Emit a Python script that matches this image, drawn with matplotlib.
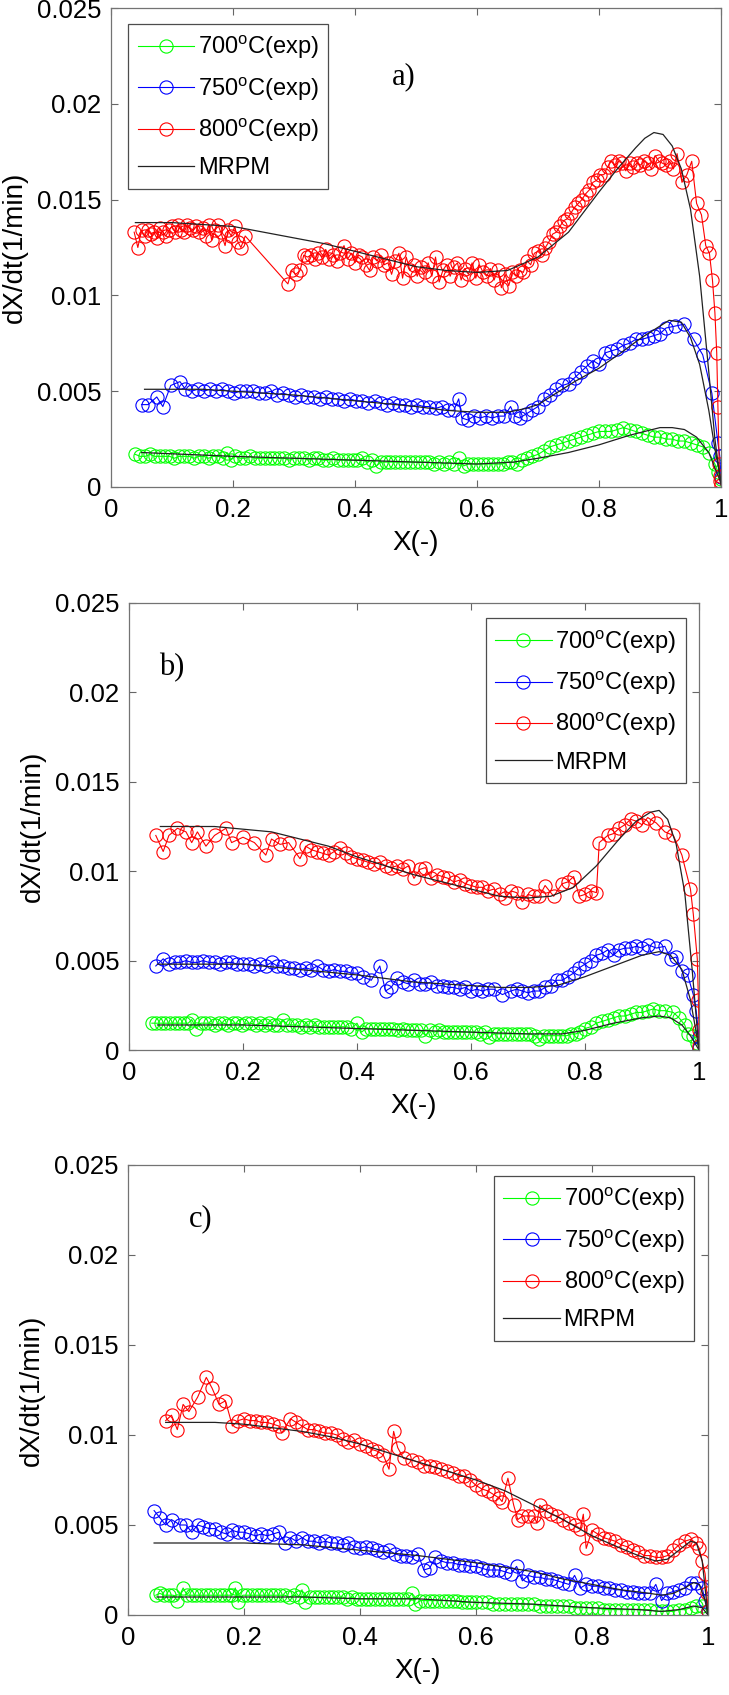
import matplotlib
matplotlib.use("Agg")
import matplotlib.pyplot as plt

# ---------------- Panel a) ----------------
a_red_x = [0.038,0.044,0.050,0.055,0.060,0.065,0.070,0.075,0.080,0.085,0.090,0.095,0.100,0.105,0.110,0.115,0.120,0.125,0.130,0.135,
           0.140,0.145,0.150,0.155,0.160,0.165,0.170,0.175,0.180,0.187,0.192,0.197,0.203,0.208,0.213,0.220,0.290,0.296,0.303,0.310,
           0.316,0.322,0.328,0.334,0.340,0.346,0.352,0.358,0.364,0.370,0.376,0.382,0.388,0.394,0.400,0.406,0.412,0.418,0.424,0.430,
           0.436,0.442,0.448,0.454,0.460,0.466,0.472,0.478,0.484,0.490,0.496,0.502,0.508,0.514,0.520,0.526,0.532,0.538,0.544,0.550,
           0.556,0.562,0.568,0.574,0.580,0.586,0.592,0.598,0.604,0.610,0.616,0.622,0.628,0.634,0.640,0.646,0.652,0.658,0.664,0.670,
           0.676,0.682,0.688,0.694,0.700,0.706,0.712,0.718,0.724,0.730,0.736,0.742,0.748,0.754,0.760,0.766,0.772,0.778,0.784,0.790,
           0.796,0.802,0.808,0.814,0.820,0.826,0.832,0.838,0.844,0.850,0.856,0.862,0.868,0.874,0.880,0.886,0.892,0.898,0.904,0.910,
           0.916,0.922,0.928,0.936,0.944,0.952,0.960,0.968,0.975,0.981,0.986,0.990,0.993,0.995,0.997,0.998,0.999,1.000]
a_red_y = [0.0133,0.0125,0.0134,0.0131,0.0134,0.0132,0.0133,0.0130,0.0135,0.0133,0.0131,0.0134,0.0136,0.0133,0.0137,0.0134,0.0133,0.0137,0.0135,0.0134,
           0.0136,0.0133,0.0135,0.0131,0.0137,0.0129,0.0134,0.0137,0.0133,0.0126,0.0134,0.0131,0.0136,0.0128,0.0125,0.0131,0.0106,0.0113,0.0111,0.0113,
           0.0121,0.0120,0.0121,0.0119,0.0122,0.0120,0.0124,0.0119,0.0121,0.0118,0.0122,0.0126,0.0119,0.0122,0.0117,0.0121,0.0120,0.0116,0.0113,0.0120,
           0.0118,0.0121,0.0116,0.0117,0.0111,0.0118,0.0122,0.0109,0.0120,0.0113,0.0116,0.0110,0.0115,0.0112,0.0117,0.0110,0.0120,0.0107,0.0113,0.0116,
           0.0110,0.0115,0.0117,0.0108,0.0114,0.0111,0.0117,0.0109,0.0116,0.0112,0.0110,0.0114,0.0108,0.0113,0.0104,0.0111,0.0105,0.0112,0.0110,0.0113,
           0.0112,0.0118,0.0116,0.0122,0.0123,0.0121,0.0125,0.0128,0.0132,0.0133,0.0136,0.0139,0.0140,0.0143,0.0146,0.0148,0.0150,0.0153,0.0155,0.0159,
           0.0160,0.0163,0.0163,0.0167,0.0170,0.0168,0.0170,0.0169,0.0165,0.0169,0.0167,0.0169,0.0168,0.0170,0.0169,0.0166,0.0173,0.0170,0.0169,0.0168,
           0.0170,0.0166,0.0174,0.0159,0.0163,0.0170,0.0148,0.0142,0.0126,0.0122,0.0108,0.0091,0.0070,0.0042,0.0012,0.0006,0.0003,0.0001]
a_red_mx = [0.04,0.10,0.20,0.25,0.30,0.35,0.40,0.45,0.50,0.55,0.60,0.65,0.70,0.75,0.80,0.83,0.86,0.875,0.89,0.905,0.92,0.935,0.95,0.965,0.98,0.99,1.00]
a_red_my = [0.0138,0.0138,0.0136,0.0133,0.0130,0.0127,0.0123,0.0119,0.0115,0.0113,0.0112,0.0113,0.0120,0.0133,0.0154,0.0166,0.0177,0.0182,0.0185,0.0184,0.0178,0.0166,0.0145,0.0110,0.0060,0.0025,0.0001]

a_blue_x = [0.050,0.061,0.075,0.085,0.098,0.113,0.122,0.132,0.142,0.152,0.162,0.172,0.182,0.192,0.202,0.212,0.222,0.232,0.242,0.252,
            0.262,0.272,0.282,0.292,0.302,0.312,0.322,0.332,0.342,0.352,0.362,0.372,0.382,0.392,0.402,0.412,0.422,0.432,0.442,0.452,
            0.462,0.472,0.482,0.492,0.502,0.512,0.522,0.532,0.542,0.552,0.562,0.570,0.575,0.585,0.595,0.605,0.615,0.625,0.635,0.645,
            0.655,0.662,0.670,0.680,0.690,0.700,0.710,0.720,0.730,0.740,0.750,0.760,0.770,0.780,0.790,0.800,0.810,0.820,0.830,0.840,
            0.850,0.860,0.870,0.880,0.890,0.900,0.910,0.925,0.940,0.955,0.970,0.985,0.995,0.998,1.000]
a_blue_y = [0.0043,0.0043,0.0047,0.0042,0.0053,0.0055,0.0051,0.0050,0.0051,0.0050,0.0051,0.0050,0.0051,0.0050,0.0049,0.0050,0.0050,0.0050,0.0049,0.0049,
            0.0050,0.0048,0.0049,0.0048,0.0047,0.0048,0.0047,0.0047,0.0046,0.0047,0.0046,0.0046,0.0045,0.0046,0.0045,0.0045,0.0044,0.0045,0.0044,0.0043,
            0.0044,0.0043,0.0043,0.0042,0.0043,0.0042,0.0042,0.0041,0.0042,0.0040,0.0040,0.0046,0.0036,0.0035,0.0037,0.0036,0.0037,0.0036,0.0037,0.0037,
            0.0042,0.0037,0.0036,0.0038,0.0040,0.0042,0.0046,0.0048,0.0051,0.0053,0.0054,0.0057,0.0060,0.0063,0.0066,0.0064,0.0070,0.0071,0.0072,0.0074,
            0.0075,0.0077,0.0077,0.0078,0.0079,0.0080,0.0083,0.0084,0.0085,0.0077,0.0069,0.0049,0.0023,0.0016,0.0005]
a_blue_mx = [0.055,0.15,0.20,0.30,0.40,0.50,0.55,0.60,0.65,0.68,0.70,0.73,0.76,0.80,0.84,0.87,0.90,0.915,0.935,0.95,0.965,0.98,0.99,1.00]
a_blue_my = [0.0051,0.0051,0.0050,0.0048,0.0045,0.0042,0.0040,0.0039,0.0039,0.0041,0.0043,0.0049,0.0055,0.0062,0.0071,0.0078,0.0084,0.0087,0.0086,0.0078,0.0064,0.0040,0.0020,0.0003]

a_green_x = [0.040,0.048,0.056,0.064,0.072,0.080,0.088,0.096,0.104,0.112,0.120,0.128,0.136,0.144,0.152,0.160,0.168,0.176,0.184,0.190,
             0.196,0.204,0.212,0.220,0.228,0.236,0.244,0.252,0.260,0.268,0.276,0.284,0.292,0.300,0.308,0.316,0.324,0.332,0.340,0.348,
             0.356,0.364,0.372,0.380,0.388,0.396,0.404,0.412,0.420,0.428,0.435,0.442,0.450,0.458,0.466,0.474,0.482,0.490,0.498,0.506,
             0.514,0.522,0.530,0.538,0.546,0.554,0.562,0.570,0.578,0.586,0.594,0.602,0.610,0.618,0.626,0.634,0.642,0.650,0.658,0.666,
             0.674,0.682,0.690,0.700,0.710,0.720,0.730,0.740,0.750,0.760,0.770,0.780,0.790,0.800,0.810,0.820,0.830,0.840,0.850,0.860,
             0.870,0.880,0.890,0.900,0.910,0.920,0.930,0.940,0.950,0.960,0.970,0.980,0.990,0.995,1.000]
a_green_y = [0.0017,0.0016,0.0016,0.0017,0.0016,0.0016,0.0016,0.0016,0.0015,0.0016,0.0016,0.0016,0.0015,0.0016,0.0016,0.0015,0.0016,0.0016,0.0015,0.0018,
             0.0014,0.0016,0.0015,0.0015,0.0016,0.0015,0.0015,0.0015,0.0015,0.0015,0.0015,0.0015,0.0014,0.0015,0.0015,0.0015,0.0014,0.0015,0.0015,0.0014,
             0.0014,0.0015,0.0014,0.0014,0.0014,0.0014,0.0014,0.0015,0.0013,0.0014,0.0011,0.0013,0.0013,0.0013,0.0013,0.0013,0.0013,0.0013,0.0013,0.0013,
             0.0013,0.0013,0.0012,0.0013,0.0012,0.0013,0.0012,0.0015,0.0011,0.0012,0.0012,0.0012,0.0012,0.0012,0.0012,0.0012,0.0012,0.0013,0.0013,0.0012,
             0.0014,0.0015,0.0016,0.0017,0.0019,0.0021,0.0022,0.0023,0.0024,0.0025,0.0026,0.0027,0.0028,0.0029,0.0029,0.0029,0.0030,0.0031,0.0030,0.0029,
             0.0028,0.0027,0.0026,0.0026,0.0025,0.0025,0.0024,0.0024,0.0023,0.0022,0.0021,0.0018,0.0012,0.0008,0.0004]
a_green_mx = [0.05,0.20,0.30,0.40,0.50,0.60,0.66,0.70,0.75,0.80,0.85,0.90,0.92,0.94,0.96,0.98,0.99,1.00]
a_green_my = [0.0018,0.0016,0.0015,0.0014,0.0013,0.0012,0.0013,0.0015,0.0018,0.0022,0.0027,0.0031,0.0031,0.0030,0.0026,0.0018,0.0010,0.0002]

# ---------------- Panel b) ----------------
b_red_x = [0.047,0.060,0.070,0.085,0.100,0.110,0.120,0.135,0.150,0.170,0.180,0.200,0.220,0.240,0.250,0.265,0.280,0.300,0.310,0.320,
           0.330,0.340,0.350,0.360,0.370,0.380,0.390,0.400,0.410,0.420,0.430,0.440,0.450,0.460,0.470,0.480,0.490,0.500,0.510,0.520,
           0.530,0.540,0.550,0.560,0.570,0.580,0.590,0.600,0.610,0.620,0.630,0.640,0.650,0.660,0.670,0.680,0.690,0.700,0.710,0.720,
           0.730,0.745,0.760,0.770,0.780,0.790,0.800,0.810,0.820,0.825,0.840,0.850,0.860,0.870,0.880,0.890,0.900,0.910,0.925,0.940,
           0.955,0.970,0.985,0.990,0.997,0.999,1.000,1.000]
b_red_y = [0.0120,0.0111,0.0120,0.0124,0.0122,0.0116,0.0122,0.0114,0.0120,0.0124,0.0116,0.0119,0.0116,0.0109,0.0118,0.0115,0.0116,0.0107,0.0114,0.0112,
           0.0111,0.0110,0.0109,0.0111,0.0113,0.0110,0.0108,0.0107,0.0106,0.0105,0.0104,0.0105,0.0103,0.0102,0.0103,0.0101,0.0103,0.0096,0.0101,0.0102,
           0.0096,0.0098,0.0097,0.0096,0.0094,0.0095,0.0093,0.0092,0.0091,0.0091,0.0089,0.0090,0.0087,0.0085,0.0089,0.0088,0.0083,0.0087,0.0086,0.0086,
           0.0092,0.0086,0.0093,0.0094,0.0097,0.0086,0.0087,0.0089,0.0088,0.0116,0.0120,0.0121,0.0124,0.0126,0.0129,0.0128,0.0126,0.0130,0.0127,0.0122,
           0.0120,0.0109,0.0090,0.0076,0.0051,0.0028,0.0011,0.0002]
b_red_mx = [0.055,0.15,0.25,0.30,0.35,0.40,0.45,0.50,0.55,0.60,0.65,0.70,0.74,0.78,0.82,0.86,0.89,0.915,0.93,0.945,0.96,0.975,0.988,1.00]
b_red_my = [0.0125,0.0125,0.0122,0.0118,0.0114,0.0108,0.0103,0.0098,0.0094,0.0090,0.0086,0.0085,0.0086,0.0091,0.0103,0.0118,0.0128,0.0133,0.0134,0.0129,0.0115,0.0088,0.0045,0.0000]

b_blue_x = [0.047,0.060,0.070,0.080,0.090,0.100,0.110,0.120,0.130,0.140,0.150,0.160,0.170,0.180,0.190,0.200,0.210,0.220,0.230,0.240,
            0.250,0.260,0.270,0.280,0.290,0.300,0.310,0.320,0.330,0.340,0.350,0.360,0.370,0.380,0.390,0.400,0.410,0.425,0.440,0.450,
            0.460,0.470,0.480,0.490,0.500,0.510,0.520,0.530,0.540,0.550,0.560,0.570,0.580,0.590,0.600,0.610,0.620,0.630,0.640,0.655,
            0.670,0.680,0.690,0.700,0.710,0.720,0.730,0.740,0.750,0.760,0.770,0.780,0.790,0.800,0.810,0.820,0.830,0.840,0.850,0.860,
            0.870,0.880,0.890,0.900,0.910,0.925,0.940,0.950,0.960,0.970,0.980,0.990,0.995,1.000,1.000]
b_blue_y = [0.0047,0.0051,0.0048,0.0049,0.0049,0.0050,0.0049,0.0049,0.0050,0.0049,0.0049,0.0048,0.0049,0.0049,0.0048,0.0048,0.0048,0.0047,0.0048,0.0047,
            0.0049,0.0047,0.0047,0.0046,0.0046,0.0045,0.0046,0.0045,0.0047,0.0045,0.0044,0.0045,0.0044,0.0044,0.0043,0.0043,0.0041,0.0039,0.0047,0.0033,
            0.0035,0.0040,0.0038,0.0037,0.0039,0.0037,0.0037,0.0038,0.0036,0.0036,0.0035,0.0035,0.0034,0.0035,0.0033,0.0034,0.0033,0.0034,0.0034,0.0031,
            0.0033,0.0034,0.0033,0.0032,0.0033,0.0033,0.0035,0.0036,0.0039,0.0039,0.0041,0.0043,0.0046,0.0048,0.0050,0.0053,0.0054,0.0056,0.0053,0.0056,
            0.0057,0.0057,0.0058,0.0057,0.0059,0.0057,0.0058,0.0051,0.0052,0.0044,0.0042,0.0031,0.0022,0.0007,0.0001]
b_blue_mx = [0.05,0.20,0.30,0.40,0.50,0.60,0.65,0.70,0.75,0.80,0.85,0.90,0.93,0.95,0.97,0.985,0.995,1.00]
b_blue_my = [0.0048,0.0048,0.0045,0.0042,0.0038,0.0036,0.0035,0.0035,0.0036,0.0041,0.0047,0.0053,0.0055,0.0053,0.0045,0.0028,0.0010,0.0000]

b_green_x = [0.040,0.048,0.056,0.064,0.072,0.080,0.088,0.096,0.104,0.110,0.118,0.126,0.134,0.142,0.150,0.158,0.166,0.174,0.182,0.190,
             0.198,0.206,0.214,0.222,0.230,0.238,0.246,0.254,0.262,0.270,0.278,0.286,0.294,0.302,0.310,0.318,0.326,0.334,0.342,0.350,
             0.358,0.366,0.374,0.382,0.390,0.400,0.408,0.416,0.424,0.432,0.440,0.448,0.456,0.464,0.472,0.480,0.488,0.496,0.504,0.512,
             0.520,0.528,0.536,0.544,0.552,0.560,0.568,0.576,0.584,0.592,0.600,0.608,0.616,0.624,0.632,0.640,0.648,0.656,0.664,0.672,
             0.680,0.688,0.696,0.704,0.712,0.720,0.728,0.736,0.744,0.752,0.760,0.768,0.776,0.784,0.792,0.800,0.810,0.820,0.830,0.840,
             0.850,0.860,0.870,0.880,0.890,0.900,0.910,0.920,0.930,0.940,0.955,0.965,0.975,0.980,0.990,0.997,1.000]
b_green_y = [0.0015,0.0015,0.0015,0.0015,0.0015,0.0015,0.0015,0.0015,0.0015,0.0017,0.0012,0.0015,0.0015,0.0015,0.0014,0.0015,0.0015,0.0014,0.0015,0.0015,
             0.0014,0.0015,0.0015,0.0014,0.0015,0.0014,0.0015,0.0014,0.0014,0.0017,0.0014,0.0014,0.0014,0.0013,0.0014,0.0013,0.0014,0.0013,0.0013,0.0013,
             0.0013,0.0013,0.0013,0.0013,0.0012,0.0015,0.0010,0.0012,0.0012,0.0012,0.0012,0.0012,0.0012,0.0012,0.0011,0.0012,0.0011,0.0011,0.0011,0.0011,
             0.0008,0.0011,0.0010,0.0011,0.0010,0.0010,0.0010,0.0010,0.0010,0.0010,0.0010,0.0010,0.0009,0.0010,0.0007,0.0009,0.0009,0.0009,0.0009,0.0009,
             0.0009,0.0009,0.0009,0.0009,0.0008,0.0006,0.0008,0.0008,0.0008,0.0008,0.0008,0.0008,0.0009,0.0009,0.0010,0.0012,0.0013,0.0015,0.0016,0.0017,
             0.0018,0.0019,0.0019,0.0020,0.0021,0.0021,0.0022,0.0023,0.0022,0.0022,0.0021,0.0018,0.0014,0.0009,0.0008,0.0004,0.0001]
b_green_mx = [0.05,0.20,0.30,0.40,0.50,0.60,0.70,0.76,0.80,0.85,0.90,0.93,0.95,0.97,0.985,1.00]
b_green_my = [0.0014,0.0014,0.0013,0.0012,0.0011,0.0010,0.0009,0.0009,0.0011,0.0015,0.0018,0.0019,0.0018,0.0014,0.0008,0.0000]

# ---------------- Panel c) ----------------
c_red_x = [0.065,0.075,0.085,0.095,0.105,0.120,0.135,0.145,0.157,0.168,0.180,0.190,0.200,0.210,0.220,0.230,0.240,0.250,0.260,0.265,
           0.280,0.290,0.300,0.310,0.320,0.330,0.340,0.350,0.360,0.370,0.380,0.390,0.400,0.410,0.420,0.430,0.440,0.450,0.458,0.465,
           0.475,0.490,0.500,0.510,0.520,0.530,0.540,0.550,0.560,0.570,0.580,0.590,0.600,0.610,0.620,0.630,0.640,0.645,0.655,0.665,
           0.672,0.680,0.690,0.700,0.705,0.710,0.720,0.730,0.740,0.750,0.760,0.770,0.780,0.785,0.790,0.800,0.810,0.820,0.830,0.840,
           0.850,0.860,0.870,0.880,0.890,0.900,0.910,0.920,0.930,0.940,0.950,0.960,0.970,0.980,0.985,0.990,0.995,0.998,1.000]
c_red_y = [0.0108,0.0111,0.0103,0.0117,0.0113,0.0121,0.0132,0.0126,0.0117,0.0119,0.0105,0.0108,0.0109,0.0108,0.0108,0.0107,0.0107,0.0106,0.0105,0.0101,
           0.0109,0.0107,0.0105,0.0103,0.0103,0.0102,0.0101,0.0101,0.0100,0.0098,0.0096,0.0097,0.0095,0.0094,0.0092,0.0091,0.0089,0.0081,0.0102,0.0093,
           0.0087,0.0086,0.0085,0.0083,0.0083,0.0082,0.0081,0.0080,0.0079,0.0077,0.0077,0.0075,0.0072,0.0070,0.0069,0.0067,0.0065,0.0063,0.0076,0.0061,
           0.0053,0.0055,0.0055,0.0055,0.0051,0.0061,0.0058,0.0056,0.0055,0.0053,0.0051,0.0050,0.0048,0.0056,0.0037,0.0047,0.0045,0.0043,0.0042,0.0041,
           0.0039,0.0038,0.0036,0.0035,0.0033,0.0033,0.0032,0.0032,0.0033,0.0036,0.0039,0.0041,0.0042,0.0040,0.0037,0.0030,0.0023,0.0012,0.0002]
c_red_mx = [0.065,0.15,0.20,0.30,0.35,0.40,0.45,0.50,0.55,0.60,0.65,0.70,0.75,0.80,0.85,0.88,0.91,0.93,0.95,0.97,0.98,0.99,0.995,1.00]
c_red_my = [0.0107,0.0107,0.0106,0.0102,0.0099,0.0095,0.0090,0.0085,0.0080,0.0075,0.0069,0.0061,0.0053,0.0044,0.0037,0.0033,0.0030,0.0031,0.0036,0.0041,0.0040,0.0030,0.0015,0.0000]

c_blue_x = [0.045,0.055,0.065,0.075,0.090,0.100,0.110,0.120,0.130,0.140,0.150,0.160,0.170,0.180,0.190,0.200,0.210,0.220,0.230,0.240,
            0.250,0.260,0.270,0.280,0.290,0.300,0.310,0.320,0.330,0.340,0.350,0.360,0.370,0.380,0.390,0.400,0.410,0.420,0.430,0.440,
            0.450,0.460,0.470,0.480,0.490,0.500,0.510,0.520,0.530,0.540,0.550,0.560,0.570,0.580,0.590,0.600,0.610,0.620,0.630,0.640,
            0.650,0.660,0.670,0.680,0.690,0.700,0.710,0.720,0.730,0.740,0.750,0.760,0.770,0.780,0.790,0.800,0.810,0.820,0.830,0.840,
            0.850,0.860,0.870,0.880,0.890,0.900,0.910,0.920,0.930,0.940,0.950,0.960,0.970,0.980,0.990,0.995,1.000]
c_blue_y = [0.0058,0.0054,0.0050,0.0053,0.0050,0.0050,0.0046,0.0050,0.0049,0.0048,0.0048,0.0046,0.0045,0.0047,0.0046,0.0046,0.0045,0.0044,0.0045,0.0044,
            0.0045,0.0046,0.0040,0.0043,0.0041,0.0043,0.0041,0.0041,0.0040,0.0041,0.0040,0.0040,0.0039,0.0040,0.0038,0.0037,0.0038,0.0037,0.0036,0.0035,
            0.0036,0.0034,0.0033,0.0033,0.0032,0.0034,0.0025,0.0026,0.0032,0.0030,0.0029,0.0029,0.0028,0.0028,0.0027,0.0027,0.0026,0.0025,0.0025,0.0025,
            0.0024,0.0023,0.0027,0.0019,0.0022,0.0021,0.0021,0.0020,0.0020,0.0019,0.0018,0.0017,0.0022,0.0015,0.0017,0.0016,0.0016,0.0015,0.0015,0.0014,
            0.0014,0.0013,0.0013,0.0012,0.0012,0.0012,0.0017,0.0008,0.0012,0.0013,0.0014,0.0015,0.0018,0.0018,0.0015,0.0008,0.0002]
c_blue_mx = [0.045,0.20,0.30,0.40,0.50,0.60,0.70,0.75,0.80,0.85,0.90,0.92,0.94,0.96,0.975,0.985,0.995,1.00]
c_blue_my = [0.0040,0.0040,0.0039,0.0036,0.0033,0.0029,0.0024,0.0020,0.0017,0.0014,0.0012,0.0011,0.0012,0.0015,0.0018,0.0017,0.0008,0.0000]

c_green_x = [0.048,0.055,0.062,0.070,0.078,0.085,0.095,0.102,0.110,0.118,0.126,0.134,0.142,0.150,0.158,0.166,0.174,0.180,0.185,0.190,
             0.198,0.206,0.214,0.222,0.230,0.238,0.246,0.254,0.262,0.270,0.278,0.286,0.294,0.300,0.305,0.314,0.322,0.330,0.338,0.346,
             0.354,0.362,0.370,0.378,0.386,0.394,0.402,0.410,0.418,0.426,0.434,0.442,0.450,0.458,0.466,0.474,0.482,0.490,0.495,0.504,
             0.512,0.520,0.528,0.536,0.544,0.552,0.560,0.568,0.576,0.584,0.592,0.600,0.610,0.620,0.630,0.640,0.650,0.660,0.670,0.680,
             0.690,0.700,0.710,0.720,0.730,0.740,0.750,0.760,0.770,0.780,0.790,0.800,0.810,0.820,0.830,0.840,0.850,0.860,0.870,0.880,
             0.890,0.900,0.910,0.920,0.930,0.940,0.950,0.960,0.970,0.980,0.990,1.000]
c_green_y = [0.0011,0.0012,0.0011,0.0011,0.0011,0.0008,0.0015,0.0011,0.0011,0.0011,0.0011,0.0011,0.0011,0.0011,0.0011,0.0011,0.0011,0.0011,0.0015,0.0007,
             0.0011,0.0011,0.0011,0.0011,0.0011,0.0011,0.0011,0.0011,0.0011,0.0011,0.0010,0.0011,0.0010,0.0014,0.0007,0.0010,0.0010,0.0010,0.0010,0.0010,
             0.0010,0.0010,0.0010,0.0009,0.0010,0.0009,0.0009,0.0009,0.0009,0.0009,0.0009,0.0009,0.0009,0.0009,0.0009,0.0009,0.0009,0.0012,0.0006,0.0008,
             0.0008,0.0008,0.0008,0.0008,0.0008,0.0008,0.0008,0.0008,0.0007,0.0007,0.0007,0.0007,0.0007,0.0007,0.0006,0.0006,0.0006,0.0006,0.0006,0.0006,
             0.0006,0.0006,0.0005,0.0005,0.0005,0.0005,0.0005,0.0005,0.0004,0.0004,0.0004,0.0004,0.0004,0.0003,0.0003,0.0003,0.0003,0.0003,0.0003,0.0003,
             0.0003,0.0003,0.0002,0.0002,0.0002,0.0002,0.0003,0.0003,0.0004,0.0005,0.0005,0.0002]
c_green_mx = [0.05,0.20,0.30,0.40,0.50,0.60,0.70,0.80,0.88,0.92,0.95,0.975,0.99,1.00]
c_green_my = [0.0010,0.0010,0.0010,0.0009,0.0009,0.0007,0.0006,0.0004,0.0003,0.0002,0.0003,0.0005,0.0004,0.0000]

legend_labels = ['700$^{\\mathregular{o}}$C(exp)', '750$^{\\mathregular{o}}$C(exp)',
                 '800$^{\\mathregular{o}}$C(exp)', 'MRPM']
x_ticks = [0, 0.2, 0.4, 0.6, 0.8, 1]
x_ticklabels = ['0', '0.2', '0.4', '0.6', '0.8', '1']
y_ticks = [0, 0.005, 0.01, 0.015, 0.02, 0.025]
y_ticklabels = ['0', '0.005', '0.01', '0.015', '0.02', '0.025']

plt.rcParams['font.family'] = ['Liberation Sans', 'DejaVu Sans']
plt.rcParams['mathtext.fontset'] = 'custom'
plt.rcParams['mathtext.rm'] = 'Liberation Sans'

W, H = 729, 1695
fig = plt.figure(figsize=(W / 100, H / 100), dpi=100)

def box(l, t, r, b):
    return [l / W, 1 - b / H, (r - l) / W, (b - t) / H]

panels = [
    dict(rect=box(111, 8, 721, 487), tag='a)', tagxy=(0.48, 0.0214),
         loc='upper left', anchor=(0.028, 0.967),
         data=[(a_green_x, a_green_y, a_green_mx, a_green_my),
               (a_blue_x, a_blue_y, a_blue_mx, a_blue_my),
               (a_red_x, a_red_y, a_red_mx, a_red_my)]),
    dict(rect=box(129, 603, 699, 1050), tag='b)', tagxy=(0.075, 0.0214),
         loc='upper right', anchor=(0.977, 0.966),
         data=[(b_green_x, b_green_y, b_green_mx, b_green_my),
               (b_blue_x, b_blue_y, b_blue_mx, b_blue_my),
               (b_red_x, b_red_y, b_red_mx, b_red_my)]),
    dict(rect=box(128, 1165, 708, 1615), tag='c)', tagxy=(0.126, 0.0220),
         loc='upper right', anchor=(0.976, 0.976),
         data=[(c_green_x, c_green_y, c_green_mx, c_green_my),
               (c_blue_x, c_blue_y, c_blue_mx, c_blue_my),
               (c_red_x, c_red_y, c_red_mx, c_red_my)]),
]
colors = ['#00ff00', '#0000ff', '#ff0000']
tick_fs = 18.5
lab_fs = 20
leg_fs = 17

for p in panels:
    ax = fig.add_axes(p['rect'])
    handles = []
    for (ex, ey, mx, my), col in zip(p['data'], colors):
        h, = ax.plot(ex, ey, '-o', color=col, lw=0.8, ms=9.5, mfc='none', mew=0.8)
        handles.append(h)
    mh = None
    for (ex, ey, mx, my), col in zip(p['data'], colors):
        mh, = ax.plot(mx, my, '-', color='#222222', lw=0.9)
    handles.append(mh)
    ax.set_xlim(0, 1)
    ax.set_ylim(0, 0.025)
    ax.set_xticks(x_ticks)
    ax.set_xticklabels(x_ticklabels)
    ax.set_yticks(y_ticks)
    ax.set_yticklabels(y_ticklabels)
    ax.tick_params(direction='in', top=True, right=True, length=5, width=0.8,
                   color='0.4', labelsize=tick_fs)
    ax.tick_params(axis='x', pad=8)
    ax.tick_params(axis='y', pad=7)
    for s in ax.spines.values():
        s.set_color('0.45')
        s.set_linewidth(0.9)
    ax.set_xlabel('X(-)', fontsize=lab_fs, labelpad=6)
    ax.set_ylabel('dX/dt(1/min)', fontsize=lab_fs, labelpad=6)
    ax.text(p['tagxy'][0], p['tagxy'][1], p['tag'], family='Liberation Serif',
            fontsize=22, ha='center', va='center')
    leg = ax.legend(handles, legend_labels, loc=p['loc'], bbox_to_anchor=p['anchor'],
                    borderaxespad=0, fontsize=leg_fs, numpoints=1, handlelength=2.4,
                    handletextpad=0.15, labelspacing=0.57, borderpad=0.4,
                    fancybox=False, framealpha=1, edgecolor='0.3')
    leg.get_frame().set_linewidth(0.9)

fig.savefig('out.png', dpi=100)
